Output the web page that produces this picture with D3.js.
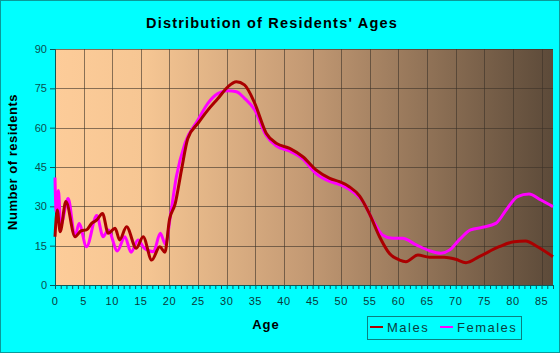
<!DOCTYPE html>
<html>
<head>
<meta charset="utf-8">
<script src="https://cdn.jsdelivr.net/npm/d3@7"></script>
<style>
  body { margin: 0; background: #00ffff; }
  svg { display: block; font-family: "Liberation Sans", Arial, sans-serif; }
</style>
</head>
<body>
<script>
// values (age -> number of residents)
var maleAges = [0, 0.4, 0.9, 1.9, 3.5, 4.6, 5.5, 6.4, 7.3, 8.3, 9.3, 10.5, 11.3, 12.5, 14.2, 15.4, 16.9, 18.3, 19.2, 20, 21, 22.1, 23.2, 25, 26.7, 28.5, 30.2, 31.7, 33.1, 34.9, 36.9, 38.7, 41, 43.3, 45.6, 48, 49.7, 51.4, 53.2, 54.9, 56.7, 58.4, 60.2, 61.3, 63.4, 65.4, 68, 70, 71.8, 74.1, 77.6, 80.2, 82.2, 84.3, 87];
var males = [18.4, 28.6, 20.3, 31.8, 18.4, 20.7, 21, 23.5, 24.8, 27.3, 19.7, 21.6, 17.2, 22.2, 14, 18.4, 9.5, 14.6, 12.5, 25, 31, 43.9, 55.9, 61.7, 66.7, 71.2, 75.6, 77.5, 76.3, 69.3, 57.9, 54, 52.1, 48.9, 43.9, 40.7, 39.4, 37.5, 34, 27.3, 18.4, 12.1, 9.5, 8.9, 11.4, 10.6, 10.6, 9.8, 8.5, 10.8, 14.6, 16.5, 16.8, 14.6, 10.8];

var femaleAges = [0, 0.2, 0.6, 1, 2.3, 3.5, 4.2, 5.5, 7.3, 8.4, 9.3, 10.9, 12.2, 13.3, 14.5, 15.6, 17.2, 18.4, 19.3, 20.2, 21.2, 22.7, 25, 26.7, 28.5, 30.2, 31.7, 33.1, 34.9, 36.9, 38.7, 41, 43.3, 45.6, 48, 49.7, 51.4, 53.8, 55.5, 57.2, 59, 60.7, 63.1, 65.4, 67.4, 68.9, 70.6, 72.6, 74.7, 77, 79, 80.8, 82.8, 84.9, 87];
var females = [41, 28, 36, 22.9, 33, 18.4, 23.5, 14.6, 26.5, 18.4, 21, 13, 18.4, 12.5, 17.2, 14, 12.7, 19.7, 15.5, 27, 41.3, 54, 63, 69.3, 73.1, 74.1, 73.7, 71.2, 66.7, 57, 53, 51, 48, 42.5, 39.5, 38.3, 36.5, 31.8, 24.8, 19.1, 17.8, 17.8, 15.3, 13.1, 12.1, 13.3, 17.2, 21, 22, 23.5, 29.2, 33.7, 34.7, 32.4, 29.9];

var yTicks = [0, 15, 30, 45, 60, 75, 90];
var xTicks = [0, 5, 10, 15, 20, 25, 30, 35, 40, 45, 50, 55, 60, 65, 70, 75, 80, 85];

var width = 560, height = 353;
var plotLeft = 55, plotRight = 553, plotTop = 49, plotBottom = 285;

var svg = d3.select("body").append("svg")
    .attr("width", width)
    .attr("height", height);

svg.append("rect")
    .attr("x", 0.5).attr("y", 0.5)
    .attr("width", width - 1).attr("height", height - 1)
    .attr("fill", "#00ffff")
    .attr("stroke", "#0a9a9a");

var x = d3.scaleLinear().domain([0, 87]).range([plotLeft, plotRight]);
var y = d3.scaleLinear().domain([0, 90]).range([plotBottom, plotTop]);

var grad = svg.append("defs").append("linearGradient")
    .attr("id", "bg")
    .attr("x1", "0%").attr("x2", "100%").attr("y1", "0%").attr("y2", "0%");
grad.append("stop").attr("offset", "0%").attr("stop-color", "#fdcc99");
grad.append("stop").attr("offset", "18%").attr("stop-color", "#f6c693");
grad.append("stop").attr("offset", "50%").attr("stop-color", "#c49a74");
grad.append("stop").attr("offset", "100%").attr("stop-color", "#5c4a39");

svg.append("rect")
    .attr("x", plotLeft).attr("y", plotTop)
    .attr("width", plotRight - plotLeft).attr("height", plotBottom - plotTop)
    .attr("fill", "url(#bg)");

// grid
svg.append("g").selectAll("line").data(yTicks.slice(1)).join("line")
    .attr("x1", plotLeft).attr("x2", plotRight)
    .attr("y1", d => Math.round(y(d)) + 0.5).attr("y2", d => Math.round(y(d)) + 0.5)
    .attr("stroke", "#3c3228").attr("stroke-opacity", 0.6);
svg.append("g").selectAll("line").data(xTicks.slice(1)).join("line")
    .attr("x1", d => Math.round(x(d)) + 0.5).attr("x2", d => Math.round(x(d)) + 0.5)
    .attr("y1", plotTop).attr("y2", plotBottom)
    .attr("stroke", "#3c3228").attr("stroke-opacity", 0.6);

// axes
var yAxis = svg.append("g")
    .attr("transform", "translate(" + plotLeft + ",0)")
    .call(d3.axisLeft(y).tickValues(yTicks).tickSize(5).tickPadding(3));
yAxis.select(".domain").attr("stroke", "#0a5a5a");
yAxis.selectAll("line").attr("stroke", "#0a5a5a");
yAxis.selectAll("text").attr("fill", "#0a5050").style("font-size", "11px");

var xAxis = svg.append("g")
    .attr("transform", "translate(0," + plotBottom + ")")
    .call(d3.axisBottom(x).tickValues(d3.range(0, 88)).tickSize(4).tickFormat(""));
xAxis.select(".domain").attr("stroke", "#0a5a5a");
xAxis.selectAll("line").attr("stroke", "#0a5a5a");

svg.append("g").selectAll("text").data(xTicks).join("text")
    .attr("x", d => x(d))
    .attr("y", 305)
    .attr("text-anchor", "middle")
    .style("font-size", "11px")
    .style("letter-spacing", "0.5px")
    .attr("fill", "#0a3a3a")
    .text(d => d);

// lines
var maleLine = d3.line()
    .x((d, i) => x(maleAges[i]))
    .y(d => y(d))
    .curve(d3.curveMonotoneX);
var femaleLine = d3.line()
    .x((d, i) => x(femaleAges[i]))
    .y(d => y(d))
    .curve(d3.curveMonotoneX);

svg.append("path").datum(females)
    .attr("d", femaleLine)
    .attr("fill", "none")
    .attr("stroke", "#ff00ff")
    .attr("stroke-width", 3);
svg.append("path").datum(males)
    .attr("d", maleLine)
    .attr("fill", "none")
    .attr("stroke", "#aa0000")
    .attr("stroke-width", 3);

// titles
svg.append("text")
    .attr("x", 272).attr("y", 28)
    .attr("text-anchor", "middle")
    .style("font-size", "14.5px").style("font-weight", "bold")
    .style("letter-spacing", "1.2px")
    .text("Distribution of Residents' Ages");

svg.append("text")
    .attr("transform", "translate(17,162) rotate(-90)")
    .attr("text-anchor", "middle")
    .style("font-size", "13px").style("font-weight", "bold")
    .style("letter-spacing", "0.5px")
    .text("Number of residents");

svg.append("text")
    .attr("x", 266).attr("y", 329)
    .attr("text-anchor", "middle")
    .style("font-size", "13px").style("font-weight", "bold")
    .style("letter-spacing", "1px")
    .text("Age");

// legend
var legend = svg.append("g");
legend.append("rect")
    .attr("x", 367.5).attr("y", 316.5)
    .attr("width", 154).attr("height", 23)
    .attr("fill", "none")
    .attr("stroke", "#0a8080");
var items = [["Males", "#aa0000", 370, 387], ["Females", "#ff00ff", 440, 457]];
items.forEach(function (it) {
    legend.append("line")
        .attr("x1", it[2]).attr("x2", it[2] + 13)
        .attr("y1", 327).attr("y2", 327)
        .attr("stroke", it[1]).attr("stroke-width", 2);
    legend.append("text")
        .attr("x", it[3]).attr("y", 332)
        .style("font-size", "13px")
        .style("letter-spacing", "1.5px")
        .attr("fill", "#0a4040")
        .text(it[0]);
});
</script>
</body>
</html>
